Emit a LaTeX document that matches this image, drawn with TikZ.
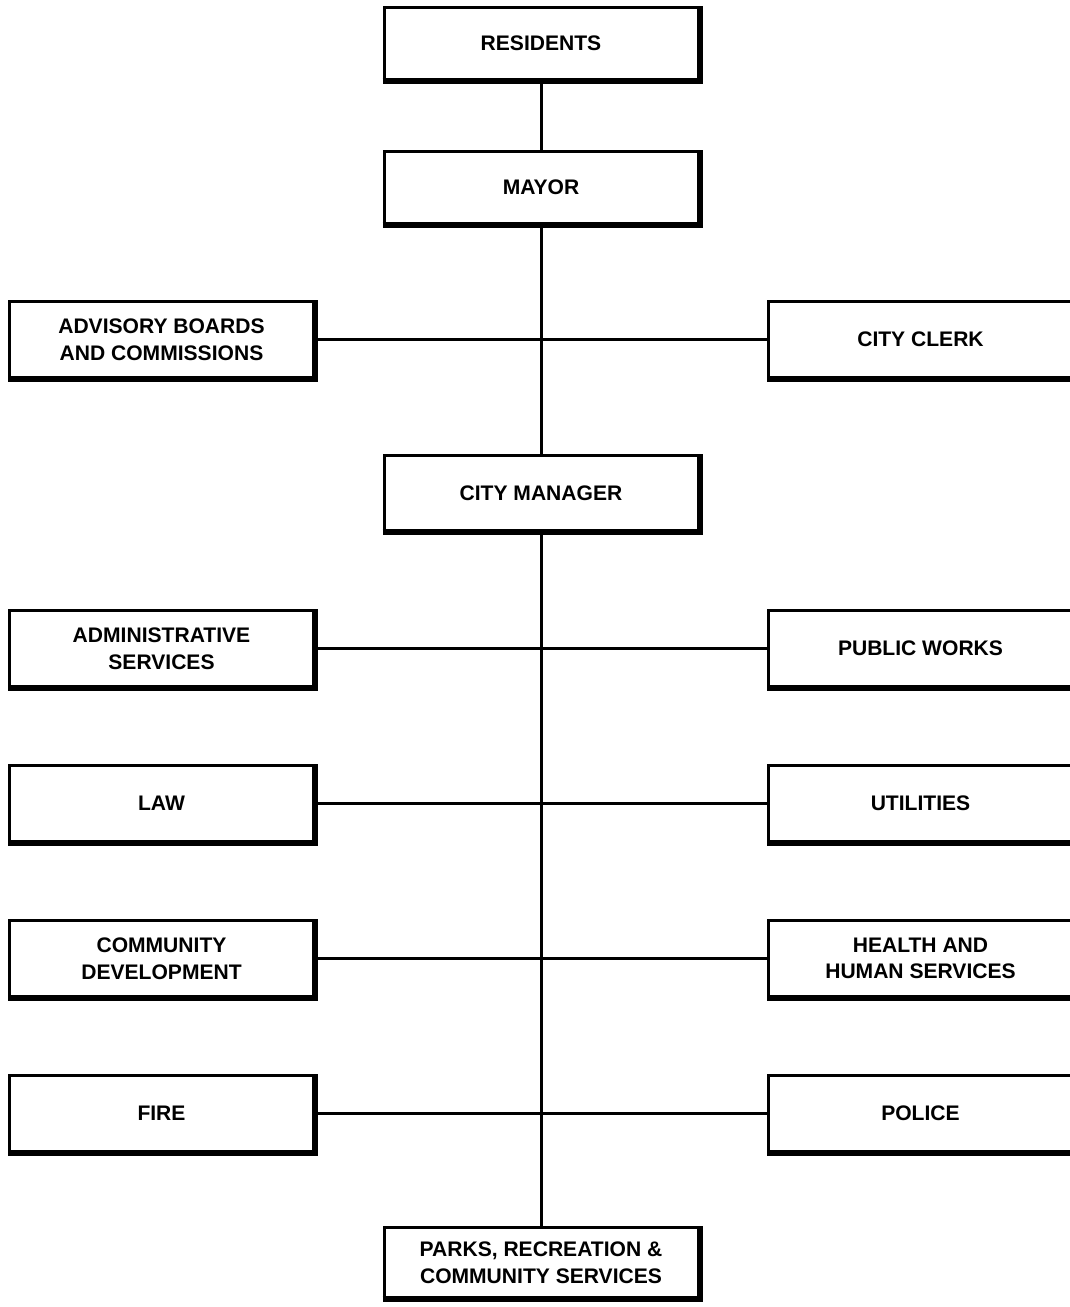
\documentclass[tikz,border=0pt]{standalone}
\usepackage{fontspec}
\setmainfont{Liberation Sans}
\tikzset{
  unit/.style={draw,fill=white,line width=2.25pt,align=center,
    font=\fontsize{15.8}{20}\selectfont\bfseries,
    minimum width=235.5pt,minimum height=54pt,inner sep=0pt},
  dept/.style={unit,minimum width=228pt,minimum height=57pt},
  link/.style={line width=2.25pt},
  edge/.style={line width=4.5pt,line join=miter}
}
\begin{document}
\begin{tikzpicture}[x=0.75pt,y=-0.75pt]
\useasboundingbox (0,0) rectangle (1070,1307);
\clip (0,0) rectangle (1070,1307);
% top of the chart
\node[unit] (res) at (541,43.5) {RESIDENTS};
\node[unit] (mayor) at (541,187) {MAYOR};
\node[dept] (board) at (161.5,339.5) {ADVISORY BOARDS\\AND COMMISSIONS};
\node[dept] (clerk) at (920.5,339.5) {CITY CLERK};
\node[unit,minimum height=56pt] (mgr) at (541,493) {CITY MANAGER};
% departments
\node[dept] (admin) at (161.5,648.5) {ADMINISTRATIVE\\SERVICES};
\node[dept] (works) at (920.5,648.5) {PUBLIC WORKS};
\node[dept] (law) at (161.5,803.5) {LAW};
\node[dept] (util) at (920.5,803.5) {UTILITIES};
\node[dept] (comdev) at (161.5,958.5) {COMMUNITY\\DEVELOPMENT};
\node[dept] (health) at (920.5,958.5) {HEALTH AND\\HUMAN SERVICES};
\node[dept] (fire) at (161.5,1113.5) {FIRE};
\node[dept] (police) at (920.5,1113.5) {POLICE};
\node[unit,minimum height=53pt] (parks) at (541,1262.5) {PARKS, RECREATION \&\\COMMUNITY SERVICES};
% heavy bottom and right edges
\foreach \n in {res,mayor,board,clerk,mgr,admin,works,law,util,comdev,health,fire,police,parks}
  \draw[edge] (\n.south west) -- (\n.south east) -- (\n.north east);
% connectors
\draw[link] (res) -- (mayor);
\draw[link] (mayor) -- (mgr);
\draw[link] (mgr) -- (parks);
\draw[link] (board) -- (clerk);
\draw[link] (admin) -- (works);
\draw[link] (law) -- (util);
\draw[link] (comdev) -- (health);
\draw[link] (fire) -- (police);
\end{tikzpicture}
\end{document}
